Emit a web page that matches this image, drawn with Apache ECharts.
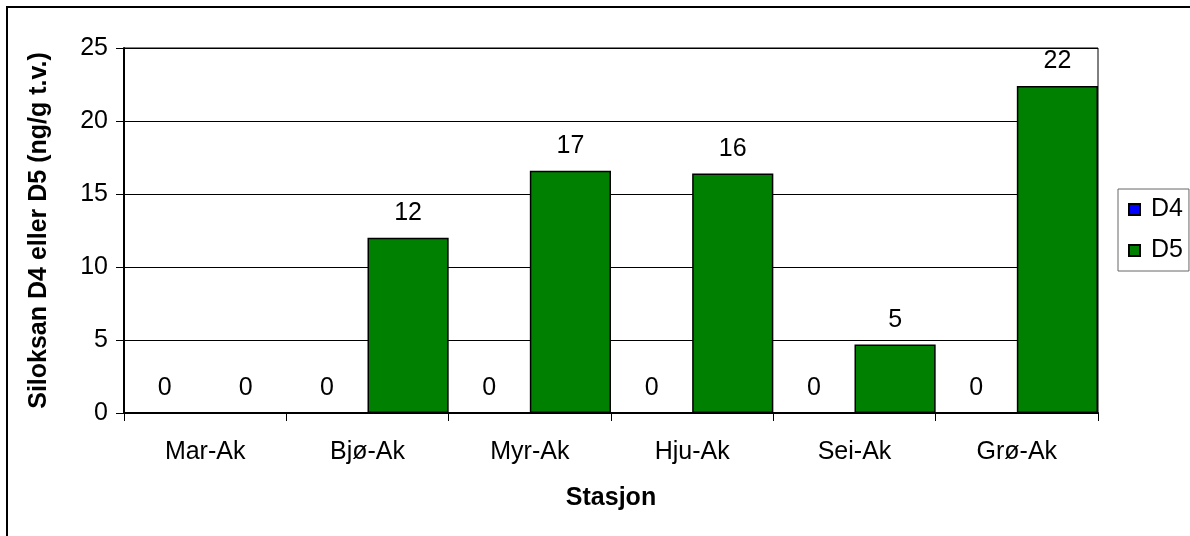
<!DOCTYPE html>
<html>
<head>
    <meta charset="utf-8">
    <title>Siloksan D4 / D5</title>
    <script src="https://cdn.jsdelivr.net/npm/echarts@6.0.0/dist/echarts.min.js"></script>
    <style>
        body, html { margin: 0; padding: 0; width: 100%; height: 100%; overflow: hidden; background: #fff; }
        #main { width: 1190px; height: 536px; }
    </style>
</head>
<body>
    <div id="main"></div>
    <script type="text/javascript">
        // Data
        var stations = ['Mar-Ak', 'Bjø-Ak', 'Myr-Ak', 'Hju-Ak', 'Sei-Ak', 'Grø-Ak'];
        var d4Values = [0, 0, 0, 0, 0, 0];
        var d5Values = [0, 12.0, 16.6, 16.4, 4.7, 22.4];
        var yTicks = { min: 0, max: 25, interval: 5 };

        var font = "'Liberation Sans', Arial, sans-serif";

        var myChart = echarts.init(document.getElementById('main'));

        // labels show rounded numbers, as in the original
        function barLabel() {
            return {
                show: true,
                position: 'top',
                distance: 12,
                fontSize: 25,
                fontFamily: font,
                color: '#000',
                formatter: function (p) { return Math.round(p.value); }
            };
        }

        var option = {
            animation: false,
            backgroundColor: '#fff',
            textStyle: { fontFamily: font },
            graphic: [{
                type: 'rect',
                shape: { x: 7, y: 7, width: 1300, height: 700 },
                style: { fill: 'none', stroke: '#000', lineWidth: 2 },
                silent: true
            }],
            grid: {
                left: 124, right: 92, top: 48, bottom: 123,
                show: true, borderColor: '#000', borderWidth: 1,
                backgroundColor: 'transparent'
            },
            legend: {
                orient: 'vertical',
                left: 1118, top: 189,
                padding: [8, 6, 8, 10],
                itemWidth: 11, itemHeight: 11, itemGap: 16,
                borderColor: '#666', borderWidth: 1,
                icon: 'rect',
                textStyle: { fontSize: 25, fontFamily: font, color: '#000', padding: [0, 0, 0, 6] },
                data: ['D4', 'D5']
            },
            xAxis: {
                type: 'category',
                data: stations,
                name: 'Stasjon',
                nameLocation: 'middle',
                nameGap: 73,
                nameTextStyle: { fontSize: 25, fontWeight: 'bold', color: '#000', fontFamily: font },
                axisLine: { lineStyle: { color: '#000', width: 2 } },
                axisTick: { show: true, alignWithLabel: false, length: 8, lineStyle: { color: '#000' } },
                axisLabel: { fontSize: 25, color: '#000', margin: 27, fontFamily: font }
            },
            yAxis: {
                type: 'value',
                min: yTicks.min, max: yTicks.max, interval: yTicks.interval,
                name: 'Siloksan D4 eller D5 (ng/g t.v.)',
                nameLocation: 'middle',
                nameGap: 72,
                nameTextStyle: { fontSize: 25, fontWeight: 'bold', color: '#000', fontFamily: font },
                axisLine: { show: true, lineStyle: { color: '#000', width: 2 } },
                axisTick: { show: true, length: 8, lineStyle: { color: '#000' } },
                axisLabel: { fontSize: 25, color: '#000', margin: 16, fontFamily: font },
                splitLine: { show: true, lineStyle: { color: '#000', width: 1 } }
            },
            series: [{
                name: 'D4',
                type: 'bar',
                data: d4Values,
                barGap: '0%',
                barCategoryGap: '0%',
                itemStyle: { color: '#0000FF', borderColor: '#000', borderWidth: 1.5 },
                label: barLabel()
            }, {
                name: 'D5',
                type: 'bar',
                data: d5Values,
                barGap: '0%',
                barCategoryGap: '0%',
                itemStyle: { color: '#008000', borderColor: '#000', borderWidth: 1.5 },
                label: barLabel()
            }]
        };

        myChart.setOption(option);
    </script>
</body>
</html>
